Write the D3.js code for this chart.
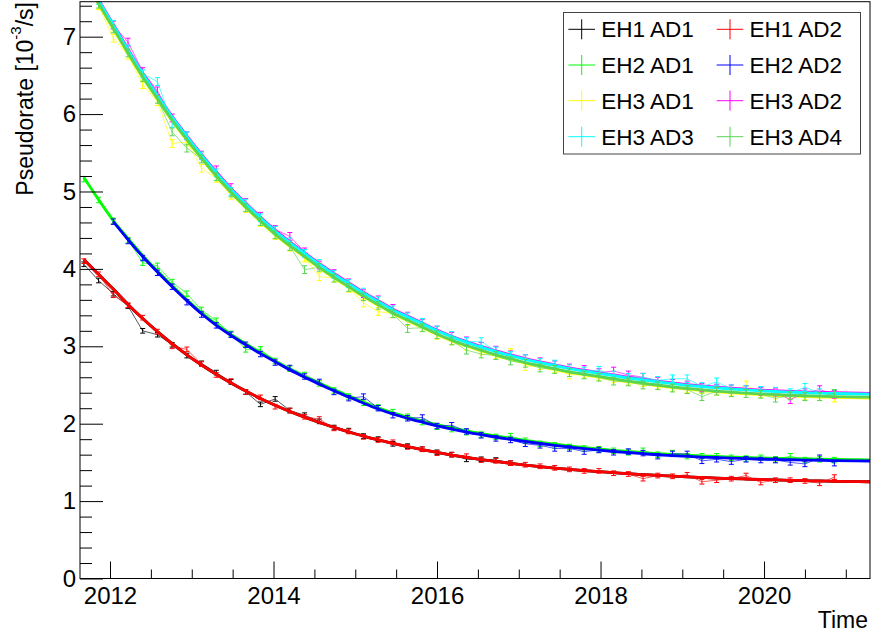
<!DOCTYPE html>
<html lang="en">
<head>
<meta charset="UTF-8">
<title>Pseudorate vs time</title>
<script src="https://cdn.jsdelivr.net/npm/d3@7"></script>
<style>
  body { margin: 0; background: #fff; }
  svg { display: block; font-family: "Liberation Sans", Arial, Helvetica, sans-serif; }
</style>
</head>
<body>
<div id="chart"></div>
<script>
// bin centres (decimal year)
const times = [
  2011.68, 2011.86, 2012.04, 2012.22, 2012.40, 2012.58, 2012.76, 2012.94, 2013.12, 2013.30,
  2013.48, 2013.66, 2013.84, 2014.02, 2014.20, 2014.38, 2014.56, 2014.74, 2014.92, 2015.10,
  2015.28, 2015.46, 2015.64, 2015.82, 2016.00, 2016.18, 2016.36, 2016.54, 2016.72, 2016.90,
  2017.08, 2017.26, 2017.44, 2017.62, 2017.80, 2017.98, 2018.16, 2018.34, 2018.52, 2018.70,
  2018.88, 2019.06, 2019.24, 2019.42, 2019.60, 2019.78, 2019.96, 2020.14, 2020.32, 2020.50,
  2020.68, 2020.86
];
const fitEnd = 2021.30;

// fitted curves per hall, on times + fitEnd
const fitEH1 = [
  4.12, 3.93, 3.74, 3.541, 3.358, 3.189, 3.034, 2.890, 2.758, 2.637,
  2.525, 2.421, 2.326, 2.239, 2.158, 2.083, 2.015, 1.952, 1.893, 1.840,
  1.790, 1.745, 1.703, 1.664, 1.628, 1.595, 1.565, 1.537, 1.512, 1.488,
  1.466, 1.446, 1.427, 1.410, 1.394, 1.380, 1.367, 1.354, 1.343, 1.333,
  1.323, 1.314, 1.306, 1.298, 1.291, 1.285, 1.279, 1.274, 1.269, 1.264,
  1.260, 1.256, 1.250
];
const fitEH2 = [
  5.17, 4.88, 4.61, 4.38, 4.16, 3.96, 3.77, 3.59, 3.42, 3.27,
  3.14, 3.02, 2.905, 2.80, 2.695, 2.60, 2.51, 2.425, 2.345, 2.265,
  2.19, 2.125, 2.07, 2.02, 1.972, 1.93, 1.892, 1.858, 1.826, 1.797,
  1.77, 1.744, 1.72, 1.698, 1.677, 1.658, 1.641, 1.626, 1.612, 1.599,
  1.588, 1.578, 1.569, 1.561, 1.554, 1.548, 1.543, 1.538, 1.534, 1.530,
  1.527, 1.524, 1.518
];
const fitEH3 = [
  7.80, 7.45, 7.13, 6.81, 6.50, 6.22, 5.94, 5.69, 5.45, 5.22,
  5.01, 4.82, 4.64, 4.47, 4.32, 4.18, 4.04, 3.91, 3.79, 3.67,
  3.56, 3.45, 3.36, 3.27, 3.18, 3.10, 3.03, 2.97, 2.91, 2.86,
  2.81, 2.77, 2.73, 2.69, 2.66, 2.63, 2.60, 2.57, 2.545, 2.52,
  2.497, 2.476, 2.458, 2.442, 2.428, 2.416, 2.405, 2.396, 2.388, 2.381,
  2.375, 2.370, 2.362
];

// measured pseudorates [10^-3/s]
const eh1ad1 = [
  4.06, 3.85, 3.68, 3.52, 3.20, 3.15, 3.02, 2.88, 2.78, 2.66,
  2.54, 2.41, 2.25, 2.32, 2.17, 2.11, 2.03, 1.95, 1.91, 1.84,
  1.80, 1.74, 1.71, 1.67, 1.63, 1.60, 1.54, 1.54, 1.53, 1.49
];
const eh1ad2 = [
  4.10, 3.93, 3.66, 3.53, 3.37, 3.19, 3.00, 2.96, 2.77, 2.63,
  2.55, 2.41, 2.34, 2.22, 2.17, 2.09, 2.06, 1.94, 1.90, 1.83,
  1.79, 1.76, 1.70, 1.67, 1.62, 1.60, 1.58, 1.53, 1.52, 1.49,
  1.47, 1.45, 1.43, 1.41, 1.39, 1.39, 1.36, 1.35, 1.29, 1.33,
  1.32, 1.34, 1.25, 1.27, 1.29, 1.33, 1.24, 1.27, 1.27, 1.26,
  1.23, 1.31
];
const eh2ad1 = [
  5.16, 4.89, 4.62, 4.37, 4.08, 4.04, 3.83, 3.68, 3.47, 3.33,
  3.16, 2.96, 2.96, 2.81, 2.71, 2.63, 2.52, 2.43, 2.35, 2.27,
  2.21, 2.15, 2.09, 2.02, 1.96, 1.93, 1.89, 1.86, 1.83, 1.84,
  1.78, 1.74, 1.72, 1.70, 1.68, 1.67, 1.65, 1.63, 1.65, 1.60,
  1.62, 1.58, 1.58, 1.58, 1.56, 1.55, 1.56, 1.54, 1.58, 1.53,
  1.54, 1.53
];
const eh2ad2 = [
  null, null, 4.61, 4.36, 4.14, 3.95, 3.77, 3.57, 3.41, 3.27,
  3.15, 3.02, 2.90, 2.79, 2.72, 2.61, 2.54, 2.41, 2.33, 2.35,
  2.20, 2.11, 2.07, 2.08, 1.97, 1.98, 1.90, 1.85, 1.81, 1.79,
  1.74, 1.72, 1.68, 1.68, 1.64, 1.66, 1.63, 1.64, 1.62, 1.58,
  1.61, 1.61, 1.52, 1.54, 1.51, 1.54, 1.53, 1.53, 1.50, 1.48,
  1.56, 1.49
];
const eh3ad1 = [
  7.75, 7.40, 6.98, 6.76, 6.38, 6.16, 5.62, 5.64, 5.30, 5.17,
  4.95, 4.78, 4.60, 4.43, 4.28, 4.14, 3.90, 3.88, 3.75, 3.56,
  3.45, 3.42, 3.32, 3.24, 3.14, 3.07, 3.00, 2.94, 2.89, 2.92,
  2.74, 2.75, 2.71, 2.63, 2.64, 2.61, 2.58, 2.55, 2.53, 2.50,
  2.47, 2.45, 2.44, 2.42, 2.41, 2.50, 2.39, 2.37, 2.37, 2.36,
  2.35, 2.33
];
const eh3ad2 = [
  7.85, 7.50, 7.15, 6.93, 6.55, 6.30, 5.95, 5.72, 5.47, 5.28,
  5.05, 4.86, 4.68, 4.51, 4.42, 4.22, 4.05, 3.94, 3.82, 3.68,
  3.60, 3.49, 3.39, 3.30, 3.21, 3.13, 3.07, 3.00, 2.95, 2.89,
  2.84, 2.80, 2.76, 2.72, 2.70, 2.66, 2.68, 2.63, 2.60, 2.55,
  2.52, 2.50, 2.47, 2.46, 2.45, 2.44, 2.42, 2.41, 2.31, 2.40,
  2.44, 2.38
];
const eh3ad3 = [
  7.82, 7.47, 7.16, 6.84, 6.52, 6.42, 5.88, 5.72, 5.46, 5.24,
  5.00, 4.85, 4.66, 4.50, 4.35, 4.20, 4.07, 3.93, 3.81, 3.70,
  3.59, 3.47, 3.38, 3.31, 3.21, 3.14, 3.06, 3.06, 2.94, 2.88,
  2.84, 2.79, 2.77, 2.71, 2.68, 2.69, 2.63, 2.60, 2.60, 2.56,
  2.58, 2.58, 2.48, 2.54, 2.45, 2.44, 2.43, 2.42, 2.40, 2.47,
  2.40, 2.39
];
const eh3ad4 = [
  7.78, 7.42, 7.10, 6.79, 6.47, 6.19, 5.77, 5.56, 5.42, 5.19,
  4.98, 4.79, 4.61, 4.44, 4.29, 3.99, 4.02, 3.88, 3.76, 3.64,
  3.53, 3.42, 3.23, 3.24, 3.15, 3.07, 2.95, 2.90, 2.88, 2.81,
  2.78, 2.72, 2.70, 2.66, 2.63, 2.60, 2.55, 2.54, 2.50, 2.49,
  2.46, 2.44, 2.35, 2.42, 2.40, 2.39, 2.38, 2.33, 2.36, 2.35,
  2.35, 2.39
];

const names  = ["EH1 AD1", "EH1 AD2", "EH2 AD1", "EH2 AD2", "EH3 AD1", "EH3 AD2", "EH3 AD3", "EH3 AD4"];
const errors = [0.03, 0.03, 0.035, 0.035, 0.05, 0.05, 0.05, 0.05];
const fitShift = [0, 0, 0.015, 0, -0.03, 0.03, 0.02, -0.02];
const xMajor = [2012, 2014, 2016, 2018, 2020];
const xMinor = [2012.5, 2013, 2013.5, 2014.5, 2015, 2015.5, 2016.5, 2017, 2017.5, 2018.5, 2019, 2019.5, 2020.5, 2021];
const yMajor = [0, 1, 2, 3, 4, 5, 6, 7];

// ROOT colour indices 1..8
const colors = ["#000000", "#ff0000", "#00ff00", "#0000ff", "#ffff00", "#ff00ff", "#00ffff", "#59d454"];
const values = [eh1ad1, eh1ad2, eh2ad1, eh2ad2, eh3ad1, eh3ad2, eh3ad3, eh3ad4];
const fits = [fitEH1, fitEH1, fitEH2, fitEH2, fitEH3, fitEH3, fitEH3, fitEH3];

const W = 873, H = 637;
const svg = d3.select("#chart").append("svg").attr("width", W).attr("height", H);

const x = d3.scaleLinear().domain([2011.633, 2021.296]).range([80, 870]);
const y = d3.scaleLinear().domain([0, 7.452]).range([578.5, 1.7]);

svg.append("defs").append("clipPath").attr("id", "frame")
  .append("rect").attr("x", 80).attr("y", 1.7).attr("width", 790).attr("height", 576.8);

const plot = svg.append("g").attr("clip-path", "url(#frame)");
const fitTimes = times.concat([fitEnd]);

values.forEach((vals, s) => {
  const pts = vals.map((v, i) => ({t: times[i], v: v})).filter(d => d.v !== null);
  const g = plot.append("g");
  // connecting line
  g.append("path")
    .attr("d", d3.line().x(d => x(d.t)).y(d => y(d.v))(pts))
    .attr("fill", "none").attr("stroke", colors[s]).attr("stroke-width", 1).attr("opacity", 0.65);
  // error bars
  const e = errors[s];
  g.selectAll(".eb").data(pts).enter().append("path")
    .attr("d", d => {
      const cx = x(d.t), y1 = y(d.v - e), y2 = y(d.v + e);
      return `M${cx},${y1}V${y2}M${cx - 2.5},${y1}H${cx + 2.5}M${cx - 2.5},${y2}H${cx + 2.5}`;
    })
    .attr("fill", "none").attr("stroke", colors[s]).attr("stroke-width", 1);
  // fit curve from first point to the right edge
  const first = times.indexOf(pts[0].t);
  const fpts = fitTimes.map((t, i) => ({t: t, v: fits[s][i] + fitShift[s]})).slice(first);
  g.append("path")
    .attr("d", d3.line().curve(d3.curveMonotoneX).x(d => x(d.t)).y(d => y(d.v))(fpts))
    .attr("fill", "none").attr("stroke", colors[s]).attr("stroke-width", 2.8);
});

// axes, ROOT style ticks inside the frame
const labelSize = 24, titleSize = 23;
svg.append("g").attr("transform", "translate(0,578.5)")
  .call(d3.axisBottom(x).tickValues(xMinor).tickSize(-9).tickFormat(""))
  .call(g => g.select(".domain").remove());
svg.append("g").attr("transform", "translate(0,578.5)")
  .call(d3.axisBottom(x).tickValues(xMajor).tickSize(-17).tickPadding(8).tickFormat(d3.format("d")))
  .call(g => g.select(".domain").remove())
  .call(g => g.selectAll("text").attr("font-size", labelSize).attr("font-family", null).attr("fill", "#000"));

const yMinor = d3.range(0.2, 7.45, 0.2).filter(v => Math.abs(v - Math.round(v)) > 0.01);
svg.append("g").attr("transform", "translate(80,0)")
  .call(d3.axisLeft(y).tickValues(yMinor).tickSize(-12).tickFormat(""))
  .call(g => g.select(".domain").remove());
svg.append("g").attr("transform", "translate(80,0)")
  .call(d3.axisLeft(y).tickValues(yMajor).tickSize(-23).tickPadding(4).tickFormat(d3.format("d")))
  .call(g => g.select(".domain").remove())
  .call(g => g.selectAll("text").attr("font-size", labelSize).attr("font-family", null).attr("fill", "#000"));

svg.selectAll(".tick line").attr("stroke", "#000");

// frame
svg.append("rect").attr("x", 80).attr("y", 1.7).attr("width", 790).attr("height", 576.8)
  .attr("fill", "none").attr("stroke", "#000").attr("stroke-width", 1);

// axis titles
svg.append("text").attr("x", 868).attr("y", 628).attr("text-anchor", "end")
  .attr("font-size", titleSize).text("Time");
const yt = svg.append("text").attr("transform", "translate(33,2) rotate(-90)")
  .attr("text-anchor", "end").attr("font-size", titleSize);
yt.append("tspan").text("Pseudorate [10");
yt.append("tspan").attr("dy", -12).attr("font-size", 15).text("-3");
yt.append("tspan").attr("dy", 12).text("/s]");

// legend
const leg = svg.append("g");
leg.append("rect").attr("x", 563.5).attr("y", 12.5).attr("width", 297).attr("height", 141.5)
  .attr("fill", "#fff").attr("stroke", "#444").attr("stroke-width", 1);
const rowY = [29.3, 65, 100.7, 136.7];
const colX = [581.7, 730];
names.forEach((n, i) => {
  const cx = colX[i % 2], cy = rowY[Math.floor(i / 2)];
  leg.append("path")
    .attr("d", `M${cx - 13.3},${cy}H${cx + 13.3}M${cx},${cy - 10}V${cy + 10}`)
    .attr("stroke", colors[i]).attr("stroke-width", 1).attr("fill", "none");
  leg.append("text").attr("x", cx + 19.5).attr("y", cy + 8).attr("font-size", 22.5).text(n);
});
</script>
</body>
</html>
